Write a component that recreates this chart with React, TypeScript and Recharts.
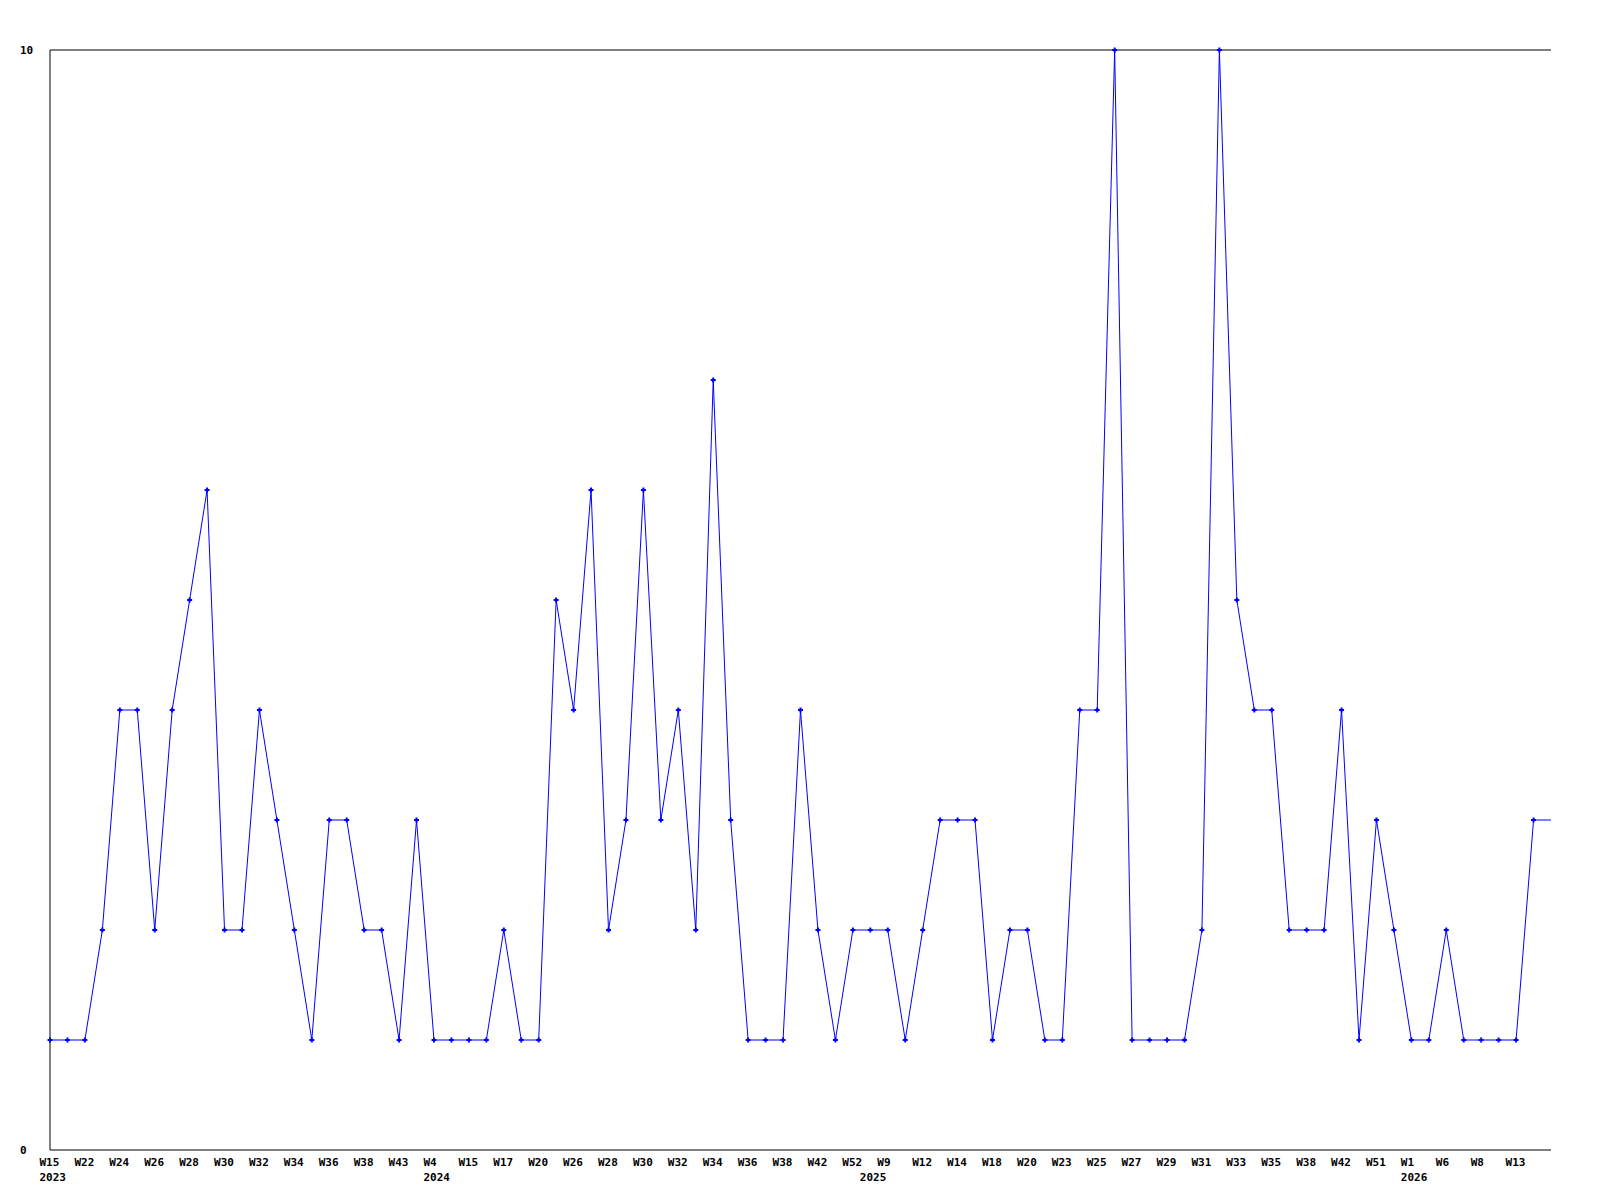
import React from 'react';
import { LineChart, Line, XAxis, YAxis, ReferenceLine } from 'recharts';

// week labels per year, in the order they appear on the axis
const weeks2023 = ['W15', 'W21', 'W22', 'W23', 'W24', 'W25', 'W26', 'W27', 'W28', 'W29', 'W30', 'W31', 'W32', 'W33', 'W34', 'W35', 'W36', 'W37', 'W38', 'W40', 'W43', 'W48'];
const weeks2024 = ['W4', 'W13', 'W15', 'W16', 'W17', 'W19', 'W20', 'W24', 'W26', 'W27', 'W28', 'W29', 'W30', 'W31', 'W32', 'W33', 'W34', 'W35', 'W36', 'W37', 'W38', 'W40', 'W42', 'W47', 'W52'];
const weeks2025 = ['W3', 'W9', 'W11', 'W12', 'W13', 'W14', 'W15', 'W18', 'W19', 'W20', 'W22', 'W23', 'W24', 'W25', 'W26', 'W27', 'W28', 'W29', 'W30', 'W31', 'W32', 'W33', 'W34', 'W35', 'W37', 'W38', 'W40', 'W42', 'W48', 'W51', 'W52'];
const weeks2026 = ['W1', 'W4', 'W6', 'W7', 'W8', 'W10', 'W13', 'W14', 'W15'];

const years = [
  { year: '2023', weeks: weeks2023 },
  { year: '2024', weeks: weeks2024 },
  { year: '2025', weeks: weeks2025 },
  { year: '2026', weeks: weeks2026 },
];

const counts = [
  1, 1, 1, 2, 4, 4, 2, 4, 5, 6, 2, 2, 4, 3, 2, 1, 3, 3, 2, 2, 1, 3,
  1, 1, 1, 1, 2, 1, 1, 5, 4, 6, 2, 3, 6, 3, 4, 2, 7, 3, 1, 1, 1, 4, 2, 1, 2,
  2, 2, 1, 2, 3, 3, 3, 1, 2, 2, 1, 1, 4, 4, 10, 1, 1, 1, 1, 2, 10, 5, 4, 4, 2, 2, 2, 4, 1, 3, 2,
  1, 1, 2, 1, 1, 1, 1, 3, 3,
];

const yTicks = [0, 10];

const data: { key: string; week: string; year: string; first: boolean; value: number }[] = [];
years.forEach(y => {
  y.weeks.forEach((w, i) => {
    data.push({ key: `${y.year}-${w}`, week: w, year: y.year, first: i === 0, value: counts[data.length] });
  });
});

const FONT = { fontFamily: '"DejaVu Sans Mono", monospace', fontWeight: 700, fontSize: 11, fill: '#000' };

const WeekTick = (props: any) => {
  const { x, y, index } = props;
  const d = data[index];
  if (!d) return null;
  // every second week is labelled; the last point sits on the frame edge and gets no label
  const showWeek = index % 2 === 0 && index < data.length - 1;
  return (
    <g>
      {showWeek && <text x={x - 10.5} y={y + 16} {...FONT}>{d.week}</text>}
      {d.first && <text x={x - 10.5} y={y + 31} {...FONT}>{d.year}</text>}
    </g>
  );
};

const ValueTick = (props: any) => {
  const { x, y, payload } = props;
  return <text x={x - 30} y={y + 4} {...FONT}>{payload.value}</text>;
};

const Marker = (props: any) => {
  const { cx, cy, index } = props;
  if (index === data.length - 1 || cx == null) return <g key={`m-${index}`} />;
  return (
    <g key={`m-${index}`} fill="#0000ff">
      <rect x={cx - 2.5} y={cy - 1} width={5} height={2} />
      <rect x={cx - 1} y={cy - 2.5} width={2} height={5} />
    </g>
  );
};

export default function App() {
  return (
    <div style={{ width: 1584, height: 1184, background: '#fff' }}>
      <LineChart width={1584} height={1184} data={data} margin={{ top: 42, right: 41, left: 0, bottom: 2 }}>
        <XAxis
          dataKey="key"
          interval={0}
          height={40}
          tickSize={0}
          tickMargin={0}
          tickLine={false}
          axisLine={{ stroke: '#000', strokeWidth: 1 }}
          tick={<WeekTick />}
        />
        <YAxis
          domain={[0, 10]}
          ticks={yTicks}
          width={42}
          tickSize={0}
          tickMargin={0}
          tickLine={false}
          axisLine={{ stroke: '#000', strokeWidth: 1 }}
          tick={<ValueTick />}
        />
        <ReferenceLine y={10} stroke="#000" strokeWidth={1} />
        <Line
          type="linear"
          dataKey="value"
          stroke="#0000ff"
          strokeWidth={1}
          dot={Marker}
          activeDot={false}
          isAnimationActive={false}
        />
      </LineChart>
    </div>
  );
}
